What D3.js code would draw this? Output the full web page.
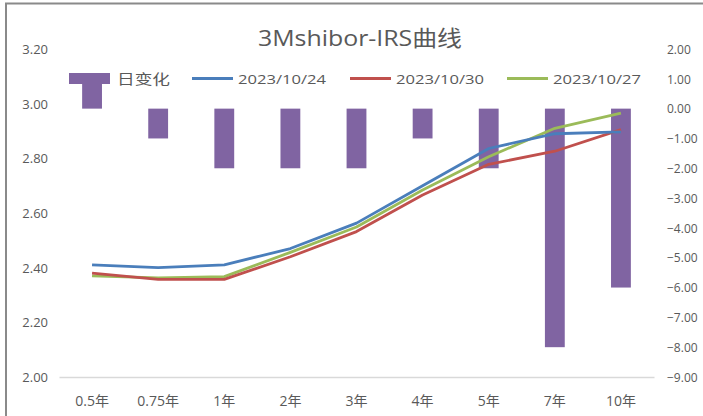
<!DOCTYPE html>
<html><head><meta charset="utf-8">
<script src="https://cdn.jsdelivr.net/npm/d3@7"></script>
<style>
html,body{margin:0;padding:0;background:#fff;}
svg{display:block;}
text{font-family:"Open Sans","Noto Sans CJK SC",sans-serif;fill:#595959;}
</style></head>
<body>
<svg id="chart" width="703" height="416"></svg>
<script>
const categories = ["0.5年","0.75年","1年","2年","3年","4年","5年","7年","10年"];
const dailyChange = [1, -1, -2, -2, -2, -1, -2, -8, -6];
const s1024 = [2.41, 2.40, 2.41, 2.47, 2.563, 2.70, 2.836, 2.89, 2.897];
const s1030 = [2.38, 2.357, 2.357, 2.44, 2.532, 2.666, 2.778, 2.826, 2.905];
const s1027 = [2.37, 2.363, 2.367, 2.456, 2.549, 2.684, 2.806, 2.91, 2.965];
const leftTicks = [2.0, 2.2, 2.4, 2.6, 2.8, 3.0, 3.2];
const rightTicks = [2, 1, 0, -1, -2, -3, -4, -5, -6, -7, -8, -9];
const seriesNames = ["日变化", "2023/10/24", "2023/10/30", "2023/10/27"];
const colors = {bar:"#8064A2", s1024:"#4A7EBB", s1030:"#C0504D", s1027:"#9BBB59"};

const svg = d3.select("#chart");

// frame border
svg.append("line").attr("x1",5).attr("x2",703).attr("y1",3.5).attr("y2",3.5).attr("stroke","#8a8a8a").attr("stroke-width",2);
svg.append("line").attr("x1",6).attr("x2",6).attr("y1",3).attr("y2",416).attr("stroke","#8a8a8a").attr("stroke-width",2);

const x = d3.scaleBand().domain(categories).range([59, 654]).paddingInner(0.7).paddingOuter(0.35);
const cx = d => x(d) + x.bandwidth()/2;
const yL = d3.scaleLinear().domain([2, 3.2]).range([377, 49]);
const yR = d3.scaleLinear().domain([-9, 2]).range([377, 49]);

// title
svg.append("text").attr("x",258).attr("y",46)
  .style("font-size","22px").attr("textLength",204).attr("lengthAdjust","spacingAndGlyphs")
  .text("3Mshibor-IRS曲线");

// left axis
const gL = svg.append("g").attr("transform","translate(48,0)")
  .call(d3.axisLeft(yL).tickValues(leftTicks).tickSize(0).tickPadding(0).tickFormat(d3.format(".2f")));
gL.select(".domain").remove();
gL.selectAll("text").style("font-size","13px").attr("dy","0.35em").style("fill","#595959");

// right axis
const gR = svg.append("g").attr("transform","translate(667,0)")
  .call(d3.axisRight(yR).tickValues(rightTicks).tickSize(0).tickPadding(0).tickFormat(d3.format(".2f")));
gR.select(".domain").remove();
gR.selectAll("text").style("font-size","12px").attr("dy","0.35em").style("fill","#595959");

// bottom axis
const gB = svg.append("g").attr("transform","translate(0,377)")
  .call(d3.axisBottom(x).tickSize(0).tickPadding(19));
gB.select(".domain").attr("stroke","#d9d9d9").attr("stroke-width",1.5);
gB.selectAll("text").style("font-size","14px").style("fill","#595959");

// bars
svg.append("g").selectAll("rect").data(categories).join("rect")
  .attr("x", d => x(d))
  .attr("width", x.bandwidth())
  .attr("y", (d,i) => yR(Math.max(0, dailyChange[i])))
  .attr("height", (d,i) => Math.abs(yR(dailyChange[i]) - yR(0)))
  .attr("fill", colors.bar);

// lines
const series = [[s1027, colors.s1027],[s1030, colors.s1030],[s1024, colors.s1024]];
const line = d3.line().x((v,i) => cx(categories[i])).y(v => yL(v));
series.forEach(([vals,c]) => {
  svg.append("path").datum(vals).attr("d", line).attr("fill","none")
    .attr("stroke", c).attr("stroke-width", 2.8).attr("stroke-linejoin","round");
});

// legend
const lg = svg.append("g");
lg.append("rect").attr("x",69).attr("y",73).attr("width",41).attr("height",11).attr("fill",colors.bar);
lg.append("text").attr("x",117).attr("y",84).style("font-size","14px").attr("textLength",53).attr("lengthAdjust","spacingAndGlyphs").text(seriesNames[0]);
const legItems = [[192, colors.s1024, seriesNames[1]],[350, colors.s1030, seriesNames[2]],[507, colors.s1027, seriesNames[3]]];
legItems.forEach(([lx,c,name]) => {
  lg.append("line").attr("x1",lx).attr("x2",lx+41).attr("y1",78.5).attr("y2",78.5).attr("stroke",c).attr("stroke-width",2.8);
  lg.append("text").attr("x",lx+46).attr("y",84).style("font-size","13px")
    .attr("textLength",88).attr("lengthAdjust","spacingAndGlyphs").text(name);
});
</script>
</body></html>
